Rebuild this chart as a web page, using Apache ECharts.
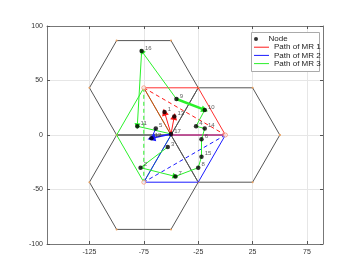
<!DOCTYPE html>
<html><head><meta charset="utf-8">
<script src="https://cdn.jsdelivr.net/npm/echarts@6/dist/echarts.min.js"></script>
<style>html,body{margin:0;padding:0;background:#fff}#c{width:357px;height:280px}</style>
</head><body><div id="c"></div>
<script>
// ---- data ----
const xTicks = [-125, -75, -25, 25, 75];
const yTicks = [-100, -50, 0, 50, 100];
const nodeIds = [1,2,3,4,5,6,7,8,9,10,11,12,13,14,15,16,17];
const nodeX = [-56,-78,-53,-27,-64,-22,-46,-25,-45,-19,-81,-68,-47,-19,-22,-77,-50];
const nodeY = [21,-30,-11,8,6,-4,-38,-30,33,23,8,-3,17,6,-20,77,1];
const hexCx = [-75, 0, -75];
const hexCy = [43.3, 0, -43.3];
const hexR = 50;
const mrCentersX = [-75, 0, -75];
const mrCentersY = [43.3, 0, -43.3];
const mr1Path = [[-75,43.3],[-25,43.3],[0,0],[-50,0],[-75,43.3]];
const mr1Dash = [[-75,43.3],[0,0]];
const mr2Path = [[0,0],[-25,-43.3],[-75,-43.3],[-50,0],[0,0]];
const mr2Dash = [[0,0],[-75,-43.3]];
const mr3Path = [[-75,-43.3],[-100,0],[-75,43.3],[-50,0],[-75,-43.3]];
const mr3Dash = [[-75,43.3],[-75,-43.3]];
const redArrows = [[17,1],[17,13]];
const blueArrows = [[17,12]];
const blueLines = [[5,12]];
const greenArrows = [[9,16],[16,11],[2,7]];
const greenThick = [[9,10]];
const greenLines = [[11,17],[10,4],[4,14],[14,6],[6,15],[15,8],[8,7],[2,3]];
const legendPaths = ['Path of MR 1','Path of MR 2','Path of MR 3'];

// ---- build ----
const P = i => [nodeX[i-1], nodeY[i-1]];
const hexes = hexCx.map((cx,k)=>{
  const pts=[];
  for(let j=0;j<=6;j++){const a=Math.PI/3*j; pts.push([cx+hexR*Math.cos(a), hexCy[k]+hexR*Math.sin(a)]);}
  return pts;
});
const RED='#ff1a1a', BLUE='#1a1aff', GREEN='#2af02a';
function pairs(list, color, width, arrow, size){
  return {type:'lines', coordinateSystem:'cartesian2d', xAxisIndex:0, yAxisIndex:0, z:4,
    symbol: arrow?['none','triangle']:['none','none'], symbolSize: size||5,
    lineStyle:{color, width, opacity:1}, silent:true,
    data: list.map(p=>({coords:[P(p[0]),P(p[1])]}))};
}
const series = [];
hexes.forEach((h,k)=>series.push({name:'hex'+k, type:'line', data:h, showSymbol:true, symbol:'circle', symbolSize:2,
  itemStyle:{color:'#e8a060'}, lineStyle:{color:'#555', width:1}, z:1, silent:true, animation:false}));
function pathSeries(name, data, color, dashed, lineColor){
  return {name, type:'line', data, showSymbol:false, symbol:'none', z:2, silent:true,
    lineStyle:{color: lineColor||color, width:1, type: dashed?[4,3]:'solid'}, itemStyle:{color}};
}
series.push(pathSeries(legendPaths[2], mr3Path, GREEN));
series.push(pathSeries('g-dash', mr3Dash, GREEN, true));
series.push(pathSeries(legendPaths[1], mr2Path, BLUE));
series.push(pathSeries('b-dash', mr2Dash, BLUE, true));
series.push(pathSeries(legendPaths[0], mr1Path, RED, false, 'rgba(255,20,20,0.88)'));
series.push(pathSeries('r-dash', mr1Dash, RED, true));
series.push(pairs(greenLines, GREEN, 1, false));
series.push(pairs(greenArrows, GREEN, 1, true, 6));
series.push(pairs(greenThick, GREEN, 2.5, true, 7));
series.push(pairs(redArrows, RED, 1, true, 7));
series.push(pairs(blueLines, BLUE, 1, false));
series.push(pairs(blueArrows, BLUE, 1.5, true, 8));
series.push({name:'centers', type:'scatter', data: mrCentersX.map((x,i)=>[x,mrCentersY[i]]), symbolSize:4,
  itemStyle:{color:'#fff', borderColor:'#f09070', borderWidth:1}, z:5, silent:true});
series.push({name:'Node', type:'scatter', symbol:'circle', symbolSize:4.5, z:6, silent:true,
  itemStyle:{color:'#000'},
  data: nodeIds.map((id,i)=>({value:[nodeX[i],nodeY[i]], id})),
  label:{show:true, position:'right', distance:1, offset:[0,-3], fontSize:6, color:'#333',
    fontFamily:'Liberation Sans', formatter:p=>String(p.data.id)}});

const axisCommon = {type:'value', axisLine:{show:true, onZero:false, lineStyle:{color:'#777', width:1}},
  axisTick:{show:true, inside:true, length:3, lineStyle:{color:'#555'}}};
const legendText = {fontSize:8, lineHeight:8, color:'#222', fontFamily:'Liberation Sans'};
const opt = {
  animation:false,
  grid:{left:47, top:26, width:276, height:218, containLabel:false},
  xAxis:[
    Object.assign({}, axisCommon, {min:-164, max:89.7, position:'bottom',
      axisTick:Object.assign({}, axisCommon.axisTick, {customValues:xTicks}),
      axisLabel:{customValues:xTicks, fontSize:7, color:'#333', margin:5, fontFamily:'Liberation Sans'},
      splitLine:{show:true, lineStyle:{color:'#e6e6e6', width:1}}}),
    Object.assign({}, axisCommon, {min:-164, max:89.7, position:'top',
      axisTick:Object.assign({}, axisCommon.axisTick, {customValues:xTicks}),
      axisLabel:{show:false}, splitLine:{show:false}})
  ],
  yAxis:[
    Object.assign({}, axisCommon, {min:-100, max:100, interval:50, position:'left',
      axisLabel:{fontSize:7, color:'#333', margin:4, fontFamily:'Liberation Sans'},
      splitLine:{show:true, lineStyle:{color:'#e6e6e6', width:1}}}),
    Object.assign({}, axisCommon, {min:-100, max:100, interval:50, position:'right',
      axisLabel:{show:false}, splitLine:{show:false}})
  ],
  graphic:[{type:'rect', z:50, silent:true, shape:{x:251.5, y:32.5, width:68, height:39},
    style:{fill:'#fff', stroke:'#aaa', lineWidth:1}}],
  legend:[
    {orient:'vertical', left:254, top:35, padding:0, itemWidth:15, itemHeight:4, z:60,
      textStyle:legendText, data:[{name:'Node', icon:'circle'}]},
    {orient:'vertical', left:254, top:43.2, padding:0, itemGap:0.2, itemWidth:15, itemHeight:1, z:60,
      icon:'rect', textStyle:legendText, data:legendPaths}
  ],
  series
};
const chart = echarts.init(document.getElementById('c'), null, {renderer:'canvas'});
chart.setOption(opt);
</script></body></html>
